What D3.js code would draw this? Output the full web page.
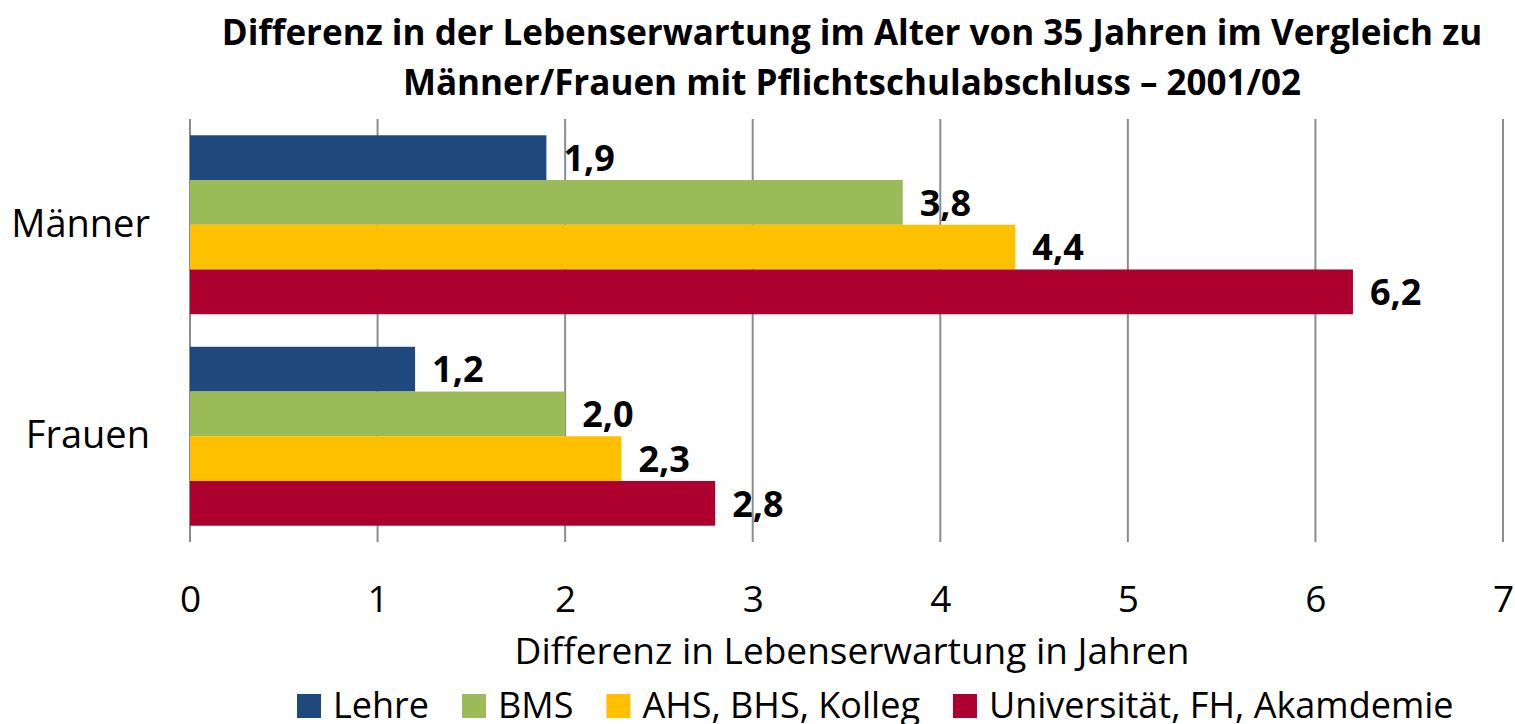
<!DOCTYPE html>
<html>
<head>
<meta charset="utf-8">
<script src="https://cdn.jsdelivr.net/npm/d3@7"></script>
<style>
  html, body { margin: 0; padding: 0; background: #fff; overflow: hidden; }
  svg { display: block; }
  text { font-family: "Open Sans", Lato, sans-serif; fill: #000; }
</style>
</head>
<body>
<svg id="frame"></svg>
<script>
// data
const categories = ['Männer', 'Frauen'];
const series = ['Lehre', 'BMS', 'AHS, BHS, Kolleg', 'Universität, FH, Akamdemie'];
const colors = ['#1f497d', '#9bbb59', '#ffc000', '#ad002e'];
const valuesMaenner = [1.9, 3.8, 4.4, 6.2];
const valuesFrauen = [1.2, 2.0, 2.3, 2.8];
const xTicks = [0, 1, 2, 3, 4, 5, 6, 7];

const width = 1515;
const height = 724;
const margin = {left: 190, right: 12, top: 119, bottom: 182};
const innerWidth = width - margin.left - margin.right;
const innerHeight = height - margin.top - margin.bottom;

const rows = [];
categories.forEach((c, i) => {
  const vals = i === 0 ? valuesMaenner : valuesFrauen;
  series.forEach((s, j) => rows.push({cat: c, s: s, v: vals[j], color: colors[j]}));
});

const svg = d3.select('#frame')
  .attr('width', width)
  .attr('height', height);

// title
const title = svg.append('text')
  .attr('text-anchor', 'middle')
  .style('font-weight', 'bold')
  .style('font-size', '35px');
title.append('tspan').attr('x', 852).attr('y', 45)
  .text('Differenz in der Lebenserwartung im Alter von 35 Jahren im Vergleich zu');
title.append('tspan').attr('x', 852).attr('y', 95)
  .text('Männer/Frauen mit Pflichtschulabschluss – 2001/02');

// scales
const xScale = d3.scaleLinear().domain([0, 7]).range([0, innerWidth]);
const yScale = d3.scaleBand().domain(categories).range([0, innerHeight])
  .paddingInner(0.154).paddingOuter(0.077);
const sScale = d3.scaleBand().domain(series).range([0, yScale.bandwidth()]);

const g = svg.append('g').attr('transform', `translate(${margin.left},${margin.top})`);

// gridlines
g.append('g').selectAll('line').data(xTicks).enter()
  .append('line')
  .attr('x1', d => xScale(d)).attr('x2', d => xScale(d))
  .attr('y1', 0).attr('y2', innerHeight)
  .attr('stroke', '#8c8c8c')
  .attr('stroke-width', 2);

// bars
g.selectAll('rect').data(rows).enter()
  .append('rect')
  .attr('x', xScale(0))
  .attr('y', d => yScale(d.cat) + sScale(d.s))
  .attr('width', d => xScale(d.v) - xScale(0))
  .attr('height', sScale.bandwidth())
  .attr('fill', d => d.color);

// value labels
g.selectAll('.val').data(rows).enter()
  .append('text')
  .attr('class', 'val')
  .attr('x', d => xScale(d.v) + 17)
  .attr('y', d => yScale(d.cat) + sScale(d.s) + sScale.bandwidth() / 2)
  .attr('dy', '0.37em')
  .style('font-weight', 'bold')
  .style('font-size', '36px')
  .text(d => d3.format('.1f')(d.v).replace('.', ','));

// category labels
const yaxis = d3.axisLeft(yScale).tickSize(0).tickPadding(40);
const ya = g.append('g').call(yaxis);
ya.select('.domain').remove();
ya.selectAll('text')
  .style('font-size', '38px')
  .style('font-family', '"Open Sans", Lato, sans-serif')
  .attr('fill', '#000');

// x axis labels
const xaxis = d3.axisBottom(xScale).tickValues(xTicks).tickSize(0).tickPadding(44)
  .tickFormat(d3.format('d'));
const xa = g.append('g').attr('transform', `translate(0,${innerHeight})`).call(xaxis);
xa.select('.domain').remove();
xa.selectAll('text')
  .style('font-size', '37px')
  .style('font-family', '"Open Sans", Lato, sans-serif')
  .attr('fill', '#000');

// axis title
svg.append('text')
  .attr('x', 852).attr('y', 664)
  .attr('text-anchor', 'middle')
  .style('font-size', '37px')
  .text('Differenz in Lebenserwartung in Jahren');

// legend
const legend = svg.append('g');
let lx = 297;
series.forEach((s, i) => {
  legend.append('rect')
    .attr('x', lx).attr('y', 694).attr('width', 24).attr('height', 24)
    .attr('fill', colors[i]);
  const t = legend.append('text')
    .attr('x', lx + 36).attr('y', 718)
    .style('font-size', '36px')
    .text(s);
  lx += 36 + t.node().getComputedTextLength() + 33;
});
</script>
</body>
</html>
